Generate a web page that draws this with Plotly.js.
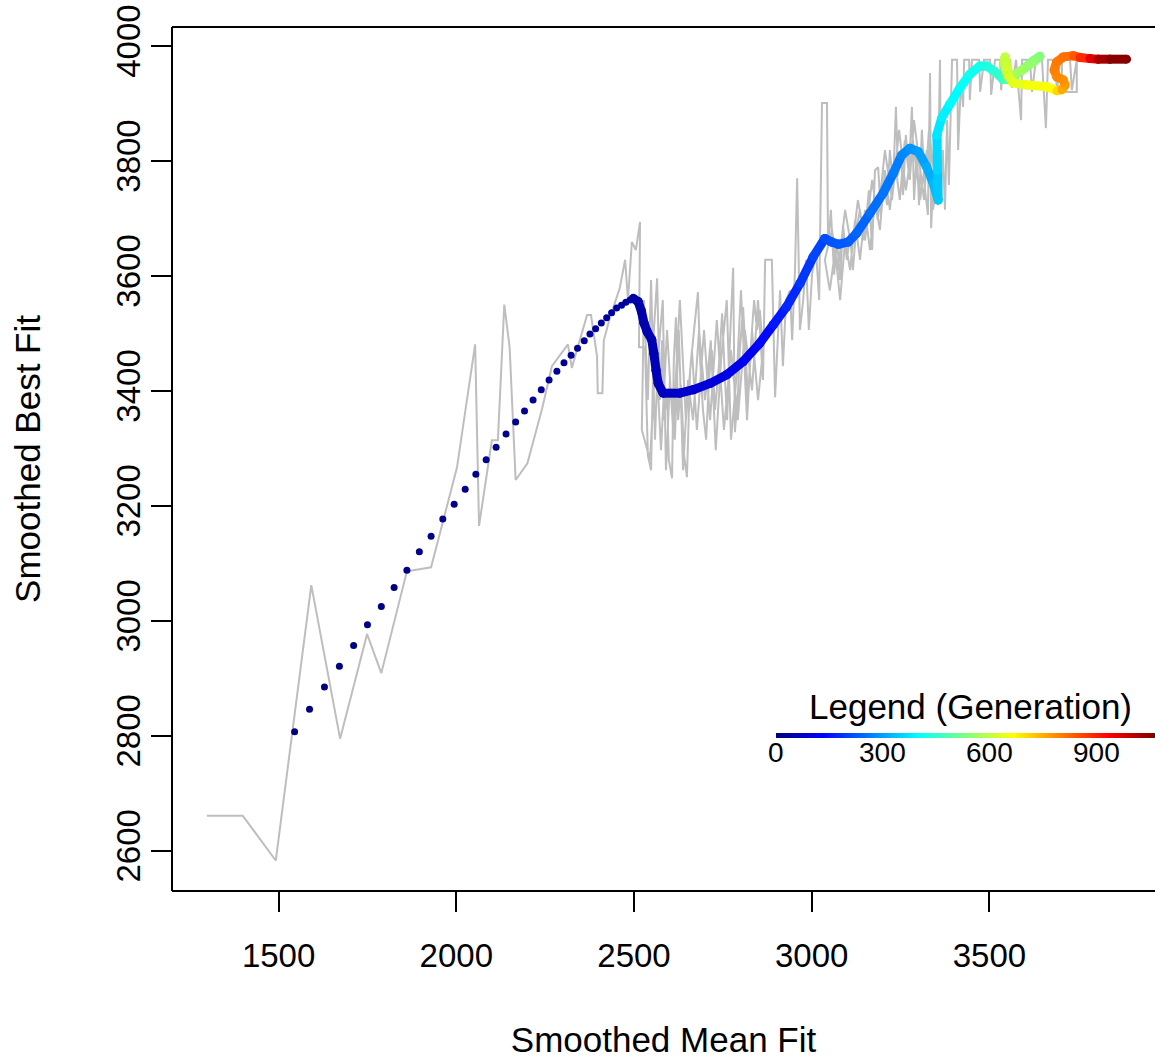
<!DOCTYPE html>
<html>
<head>
<meta charset="utf-8">
<script src="https://cdn.plot.ly/plotly-3.0.1.min.js"></script>
<style>html,body{margin:0;padding:0;background:#fff;}#chart{width:1155px;height:1059px;}</style>
</head>
<body>
<div id="chart"></div>
<script>
// ---- grey raw path (Smoothed Mean Fit vs Smoothed Best Fit, per generation) ----
const greyX = [1298,1399,1492,1592,1673,1749,1789,1861,1929,2002,
2053,2064,2100,2117,2135,2150,2167,2200,2241,2269,
2314,2325,2368,2379,2396,2398,2411,2415,2432,2460,
2475,2483,2494,2505,2517,2514,2531,2534,2539,2548,
2556,2565,2573,2579,2584,2593,2598,2607,2612,2618,
2624,2632,2641,2649,2658,2669,2680,2686,2694,2703,
2711,2719,2728,2739,2748,2756,2762,2770,2779,2784,
2793,2798,2807,2815,2821,2829,2838,2846,2854,2863,
2849,2832,2818,2801,2790,2773,2761,2745,2730,2716,
2700,2683,2666,2652,2638,2626,2615,2601,2590,2581,
2567,2559,2548,2539,2528,2522,2545,2562,2576,2593,
2610,2629,2646,2663,2677,2697,2714,2733,2753,2773,
2792,2812,2832,2849,2863,
2869,2888,2897,2905,2911,2919,2928,2939,2945,2953,
2959,2967,2976,2984,2992,3001,3012,3021,3029,3043,
3046,3054,3063,3071,3080,3088,3099,3108,3116,3125,
3136,3144,3153,3161,3170,3178,3187,3195,3203,3212,
3220,3229,3237,3243,3251,3257,3265,3274,3282,3288,
3296,3302,3310,3319,3327,3333,3336,3341,3350,3355,
3344,3330,3316,3302,3288,3276,3262,3248,3234,3220,
3206,3192,3178,3164,3150,3136,3122,3108,3094,3080,
3066,3051,3037,3057,3074,3094,3113,3130,3150,3170,
3186,3206,3226,3246,3265,3285,3305,3324,3341,3355,
3361,3364,3369,3375,3381,3386,3395,3409,3412,3420,
3426,3429,3443,3445,3451,3471,3474,3485,3502,3505,
3516,3530,3533,3541,3558,3564,3575,3589,3592,3614,
3620,3631,3648,3659,3665,3685,3690,3699,3727,3732,
3746,3746,3704,3704];
const greyY = [2661,2661,2583,3062,2795,2977,2909,3086,3093,3267,
3481,3165,3314,3314,3550,3476,3245,3274,3368,3443,
3481,3440,3532,3532,3460,3396,3396,3488,3527,3579,
3628,3558,3659,3645,3694,3476,3476,3407,3288,3262,
3506,3596,3384,3488,3349,3393,3280,3248,3454,3528,
3349,3410,3288,3250,3436,3506,3572,3454,3367,3315,
3419,3471,3367,3445,3535,3419,3349,3488,3614,3328,
3402,3471,3546,3454,3384,3480,3558,3506,3541,3471,
3384,3506,3349,3575,3436,3315,3558,3454,3297,3488,
3384,3506,3349,3419,3262,3506,3315,3419,3262,3558,
3454,3315,3593,3384,3558,3332,3280,3471,3297,3506,
3332,3558,3349,3471,3332,3506,3349,3523,3332,3471,
3349,3506,3401,3558,3419,
3628,3628,3389,3506,3575,3443,3558,3575,3488,3610,
3770,3506,3558,3628,3506,3602,3645,3558,3901,3901,
3650,3715,3602,3662,3593,3689,3628,3671,3610,3680,
3715,3662,3697,3749,3645,3784,3789,3706,3767,3723,
3819,3758,3894,3775,3819,3741,3845,3784,3894,3732,
3819,3723,3854,3749,3706,3953,3683,3749,3819,3723,
3784,3854,3732,3801,3871,3767,3836,3732,3801,3715,
3784,3680,3732,3645,3715,3628,3697,3610,3662,3558,
3645,3575,3628,3680,3610,3715,3645,3732,3662,3767,
3697,3819,3732,3854,3749,3836,3732,3819,3715,3767,
3976,3741,3819,3715,3871,3758,3976,3976,3819,3941,
3894,3976,3976,3906,3976,3976,3920,3976,3976,3915,
3976,3976,3923,3976,3976,3927,3976,3871,3976,3976,
3920,3976,3976,3857,3976,3976,3920,3976,3976,3923,
3976,3920,3920,3976];

// ---- early smoothed points (separate dots) ----
const dotGen = [0,1,2,3,4,5,6,7,8,9,10,11,12,13,14,15,16,17,18,19,20,21,22,23,24,25,26,27,28,29,30,31,32,33,34,35,36];
const dotX = [1545,1587,1629,1671,1711,1750,1789,1825,1861,1896,1929,1962,1994,2025,2055,2084,2112,2140,2167,2192,2216,2239,2261,2283,2303,2323,2341,2360,2376,2392,2408,2423,2437,2451,2465,2477,2489];
const dotY = [2807,2846,2885,2921,2957,2993,3025,3058,3088,3120,3147,3177,3203,3229,3255,3280,3302,3325,3346,3365,3384,3402,3419,3434,3449,3462,3474,3487,3499,3508,3518,3527,3536,3544,3549,3554,3558];

// ---- later smoothed path (dense, drawn as thick coloured curve) ----
const pathX = [2498,2512,2521,2528,2537,2550,2556,2562,2568,2582,
2629,2667,2714,2761,2807,2854,2892,2929,2967,3004,
3037,3056,3075,3103,3126,3164,3201,3229,3253,3276,
3300,3323,3342,3356,3354,3352,3366,3389,3417,3445,
3473,3493,3516,3538,3552,3572,3600,3623,3642,3623,
3592,3564,3547,3541,3544,3550,3552,3566,3606,3662,
3690,3704,3713,3708,3690,3682,3689,3708,3736,3755,
3783,3806,3839,3886];
const pathY = [3561,3555,3538,3518,3503,3489,3465,3436,3413,3396,
3396,3402,3413,3428,3451,3483,3515,3546,3587,3633,
3665,3659,3655,3659,3674,3709,3744,3778,3810,3822,
3816,3790,3761,3732,3784,3845,3875,3899,3927,3951,
3965,3965,3955,3942,3942,3949,3962,3974,3982,3972,
3958,3948,3955,3972,3981,3965,3948,3936,3932,3929,
3922,3924,3932,3941,3946,3958,3972,3981,3983,3980,
3978,3977,3977,3977];
const pathGen = [37,40,43,46,49,52,55,58,61,66,
76,84,92,104,118,132,149,165,182,199,
212,218,223,228,233,243,252,260,270,282,
295,308,320,333,350,368,380,390,400,410,
418,425,438,455,468,485,505,520,531,545,
560,572,582,592,598,608,618,630,645,660,
672,740,765,775,785,792,800,808,818,860,
915,1000,1045,1063];

const xTicks = [1500,2000,2500,3000,3500];
const yTicks = [2600,2800,3000,3200,3400,3600,3800,4000];
const legendTicks = [0,300,600,900];
const genMax = 1063;

// jet colour ramp
const jetStops = [[0,'#00007F'],[0.125,'#0000FF'],[0.25,'#007FFF'],[0.375,'#00FFFF'],[0.5,'#7FFF7F'],[0.625,'#FFFF00'],[0.75,'#FF7F00'],[0.875,'#FF0000'],[1,'#7F0000']];
function hex2rgb(h){return [parseInt(h.substr(1,2),16),parseInt(h.substr(3,2),16),parseInt(h.substr(5,2),16)];}
function jet(t){
  t = Math.max(0, Math.min(1, t));
  for (let i = 0; i < jetStops.length - 1; i++) {
    const a = jetStops[i], b = jetStops[i+1];
    if (t <= b[0]) {
      const f = (t - a[0]) / (b[0] - a[0]);
      const ca = hex2rgb(a[1]), cb = hex2rgb(b[1]);
      const c = ca.map((v, k) => Math.round(v + (cb[k] - v) * f));
      return 'rgb(' + c.join(',') + ')';
    }
  }
  return jetStops[jetStops.length-1][1];
}

const FONT = 'Liberation Sans, Arial, Helvetica, sans-serif';
const W = 1155, H = 1059, ML = 172, MR = 0, MT = 27, MB = 168;
const PW = W - ML - MR, PH = H - MT - MB;
// legend bar geometry (pixels)
const barX0 = 776, barLen = 379, barYc = 735;

const traces = [];

traces.push({
  type: 'scatter', mode: 'lines', x: greyX, y: greyY,
  line: {color: '#BEBEBE', width: 2}, hoverinfo: 'skip'
});

traces.push({
  type: 'scatter', mode: 'markers', x: dotX, y: dotY,
  marker: {
    size: 7, color: dotGen, colorscale: jetStops, cmin: 0, cmax: genMax,
    showscale: true,
    colorbar: {
      orientation: 'h', x: (barX0 - ML) / PW, xanchor: 'left',
      y: (H - MB - (barYc - 2.5)) / PH, yanchor: 'top',
      len: barLen, lenmode: 'pixels', thickness: 5, thicknessmode: 'pixels',
      outlinewidth: 0, xpad: 0, ypad: 0,
      showticklabels: false, ticks: '',
      title: {text: ''}
    },
    line: {width: 0}
  },
  hoverinfo: 'skip'
});

for (let i = 0; i < pathX.length - 1; i++) {
  const col = jet(((pathGen[i] + pathGen[i+1]) / 2) / genMax);
  traces.push({
    type: 'scatter', mode: 'lines+markers',
    x: [pathX[i], pathX[i+1]], y: [pathY[i], pathY[i+1]],
    line: {color: col, width: 9},
    marker: {color: col, size: 9, line: {width: 0}},
    hoverinfo: 'skip'
  });
}

const annotations = [
  {text: 'Legend (Generation)', xref: 'paper', yref: 'paper',
   x: (970 - ML) / PW, y: (H - MB - 706) / PH,
   xanchor: 'center', yanchor: 'middle', showarrow: false,
   font: {family: FONT, size: 35, color: '#000'}}
];
legendTicks.forEach(v => {
  annotations.push({
    text: String(v), xref: 'paper', yref: 'paper',
    x: (barX0 + v * barLen / genMax - ML) / PW, y: (H - MB - 752) / PH,
    xanchor: 'center', yanchor: 'middle', showarrow: false,
    font: {family: FONT, size: 28, color: '#000'}
  });
});

const layout = {
  width: W, height: H,
  margin: {l: ML, r: MR, t: MT, b: MB, pad: 0},
  paper_bgcolor: '#fff', plot_bgcolor: '#fff',
  showlegend: false,
  font: {family: FONT, color: '#000'},
  xaxis: {
    range: [1200, 3966], tickvals: xTicks, ticktext: xTicks.map(String),
    ticks: 'outside', ticklen: 20, tickwidth: 2, tickcolor: '#000',
    showgrid: false, zeroline: false, showline: false,
    tickfont: {family: FONT, size: 33, color: '#000'},
    ticklabelstandoff: 15,
    title: {text: 'Smoothed Mean Fit', font: {family: FONT, size: 35, color: '#000'}, standoff: 56},
    automargin: false
  },
  yaxis: {
    range: [2530, 4033], tickvals: yTicks, ticktext: yTicks.map(String),
    ticks: 'outside', ticklen: 20, tickwidth: 2, tickcolor: '#000',
    showgrid: false, zeroline: false, showline: false, tickangle: -90,
    tickfont: {family: FONT, size: 33, color: '#000'},
    ticklabelstandoff: -2,
    title: {text: 'Smoothed Best Fit', font: {family: FONT, size: 35, color: '#000'}, standoff: 58},
    automargin: false
  },
  shapes: [
    {type: 'line', xref: 'paper', yref: 'paper', x0: 0, x1: 0, y0: 0, y1: 1, line: {color: '#000', width: 2}},
    {type: 'line', xref: 'paper', yref: 'paper', x0: 0, x1: 1, y0: 1, y1: 1, line: {color: '#000', width: 2}},
    {type: 'line', xref: 'paper', yref: 'paper', x0: 0, x1: 1, y0: 0, y1: 0, line: {color: '#000', width: 2}}
  ],
  annotations: annotations
};

Plotly.newPlot('chart', traces, layout, {displayModeBar: false, staticPlot: true});
</script>
</body>
</html>
